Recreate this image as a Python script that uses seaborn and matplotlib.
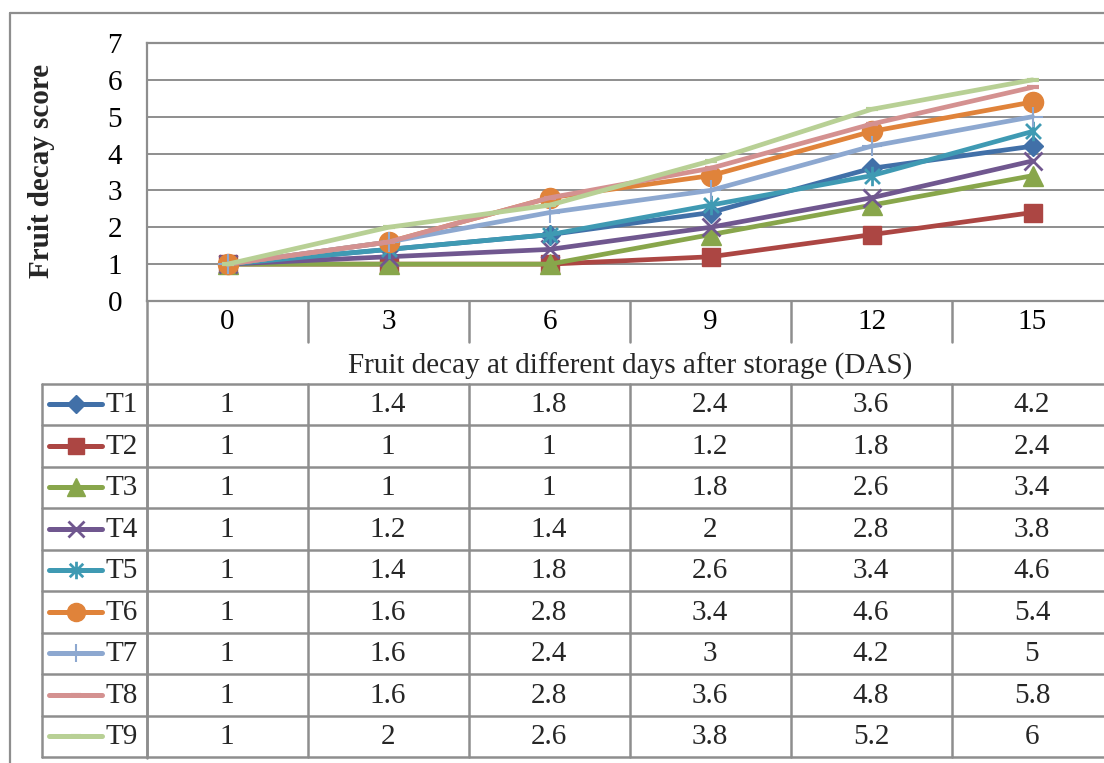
import matplotlib
matplotlib.use("Agg")
import matplotlib.pyplot as plt
import matplotlib.transforms as mtransforms
from matplotlib.path import Path
from matplotlib.lines import Line2D
import seaborn as sns

# ---------------- data ----------------
days = [0, 3, 6, 9, 12, 15]
day_labels = ["0", "3", "6", "9", "12", "15"]
treatments = ["T1", "T2", "T3", "T4", "T5", "T6", "T7", "T8", "T9"]
T1 = [1, 1.4, 1.8, 2.4, 3.6, 4.2]
T2 = [1, 1, 1, 1.2, 1.8, 2.4]
T3 = [1, 1, 1, 1.8, 2.6, 3.4]
T4 = [1, 1.2, 1.4, 2, 2.8, 3.8]
T5 = [1, 1.4, 1.8, 2.6, 3.4, 4.6]
T6 = [1, 1.6, 2.8, 3.4, 4.6, 5.4]
T7 = [1, 1.6, 2.4, 3, 4.2, 5]
T8 = [1, 1.6, 2.8, 3.6, 4.8, 5.8]
T9 = [1, 2, 2.6, 3.8, 5.2, 6]
series = [T1, T2, T3, T4, T5, T6, T7, T8, T9]
table_text = [["1", "1.4", "1.8", "2.4", "3.6", "4.2"],
              ["1", "1", "1", "1.2", "1.8", "2.4"],
              ["1", "1", "1", "1.8", "2.6", "3.4"],
              ["1", "1.2", "1.4", "2", "2.8", "3.8"],
              ["1", "1.4", "1.8", "2.6", "3.4", "4.6"],
              ["1", "1.6", "2.8", "3.4", "4.6", "5.4"],
              ["1", "1.6", "2.4", "3", "4.2", "5"],
              ["1", "1.6", "2.8", "3.6", "4.8", "5.8"],
              ["1", "2", "2.6", "3.8", "5.2", "6"]]
y_ticks = [0, 1, 2, 3, 4, 5, 6, 7]
x_title = "Fruit decay at different days after storage (DAS)"
y_title = "Fruit decay score"

# ---------------- style ----------------
colors = ["#4170A8", "#AC4643", "#88A64B", "#70578F", "#3F9AB3",
          "#E0833A", "#8DA8D0", "#D49190", "#B8D095"]
asterisk = Path([(-1, -1), (1, 1), (-1, 1), (1, -1), (0, -1.3), (0, 1.3)],
                [Path.MOVETO, Path.LINETO, Path.MOVETO, Path.LINETO,
                 Path.MOVETO, Path.LINETO])
markers = ["D", "s", "^", "x", asterisk, "o", "+", "_", "_"]
msizes = [10.5, 13.5, 14, 13, 14, 14.5, 15, 8, 8]
mews = [1, 1, 1, 2, 2, 1, 1.5, 3, 3]

sns.set_theme(style="white")
plt.rcParams["font.family"] = ["Liberation Serif", "DejaVu Serif"]
GRID = "#8E8E8E"
FS = 21

W, H = 1104, 763
fig = plt.figure(figsize=(W / 100, H / 100), dpi=100)
fig.patch.set_facecolor("white")

def fx(px):
    return px / W

def fy(py):
    return 1 - py / H

left_px, right_px, top_px, bot_px = 147, 1113, 43, 301
ax = fig.add_axes([fx(left_px), fy(bot_px), (right_px - left_px) / W,
                   (bot_px - top_px) / H])
ax.patch.set_alpha(0)

for vals, c, m, ms, mew in zip(series, colors, markers, msizes, mews):
    sns.lineplot(x=days, y=vals, ax=ax, color=c, marker=m, markersize=ms,
                 markeredgecolor=c, markerfacecolor=c, markeredgewidth=mew,
                 linewidth=3.4, legend=False, errorbar=None,
                 solid_joinstyle="round", solid_capstyle="round", zorder=3)

ax.set_xlim(-1.5, 16.5)
ax.set_ylim(0, 7)
ax.set_yticks(y_ticks)
ax.set_yticklabels([str(t) for t in y_ticks], fontsize=FS)
ax.set_xticks(days)
ax.set_xticklabels(day_labels, fontsize=FS)
ax.tick_params(axis="both", length=0, colors="black")
ax.tick_params(axis="y", pad=18)
ax.tick_params(axis="x", pad=6)
ax.yaxis.grid(True, color=GRID, linewidth=1.4, zorder=0)
ax.set_axisbelow(True)
ax.spines["right"].set_visible(False)
for s in ["left", "bottom", "top"]:
    ax.spines[s].set_visible(True)
    ax.spines[s].set_color(GRID)
    ax.spines[s].set_linewidth(1.6)
ax.set_xlabel("")
ax.set_ylabel("")

# category separators below the axis
trans = mtransforms.blended_transform_factory(ax.transData, ax.transAxes)
sep_bottom = -(342 - bot_px) / (bot_px - top_px)
for b in [1.5, 4.5, 7.5, 10.5, 13.5, 16.5]:
    ax.plot([b, b], [0, sep_bottom], transform=trans, color=GRID, lw=1.8,
            clip_on=False, zorder=1)

# ---------------- overlay: border, title row, data table ----------------
ov = fig.add_axes([0, 0, 1, 1], zorder=5)
ov.set_xlim(0, W)
ov.set_ylim(H, 0)
ov.axis("off")
ov.patch.set_alpha(0)

# outer chart border
ov.plot([10, 10], [H + 5, 13], color=GRID, lw=1.6)
ov.plot([10, W + 5], [13, 13], color=GRID, lw=1.6)

# left line of plot area through the title row / table
ov.plot([147, 147], [bot_px, 757.5], color=GRID, lw=1.8)

ov.text(630, 366, x_title, ha="center", va="center", fontsize=FS)

fig.text(fx(42), fy(171), y_title, rotation=90, ha="center", va="center",
         fontsize=FS, fontweight="bold")

tab_top, row_h = 383.5, 41.5
col_lines = [42, 147, 308, 469, 630, 791, 952, 1113]
n_rows = len(treatments)
for k in range(n_rows + 1):
    yy = tab_top + k * row_h
    ov.plot([42, W + 5], [yy, yy], color=GRID, lw=1.8)
for xx in col_lines:
    ov.plot([xx, xx], [tab_top, tab_top + n_rows * row_h], color=GRID, lw=1.8)

for r, name in enumerate(treatments):
    yc = tab_top + (r + 0.5) * row_h
    ov.add_line(Line2D([49, 102], [yc, yc], color=colors[r], lw=3.6,
                       solid_capstyle="round"))
    ov.add_line(Line2D([76], [yc], marker=markers[r], markersize=msizes[r] * 0.9,
                       color=colors[r], markeredgecolor=colors[r],
                       markeredgewidth=mews[r], linestyle="none"))
    ov.text(106, yc + 1, name, ha="left", va="center", fontsize=FS)
    for i, t in enumerate(table_text[r]):
        ov.text(227 + 161 * i, yc + 1, t, ha="center", va="center", fontsize=FS)

fig.savefig("out.png", dpi=100, facecolor="white")
